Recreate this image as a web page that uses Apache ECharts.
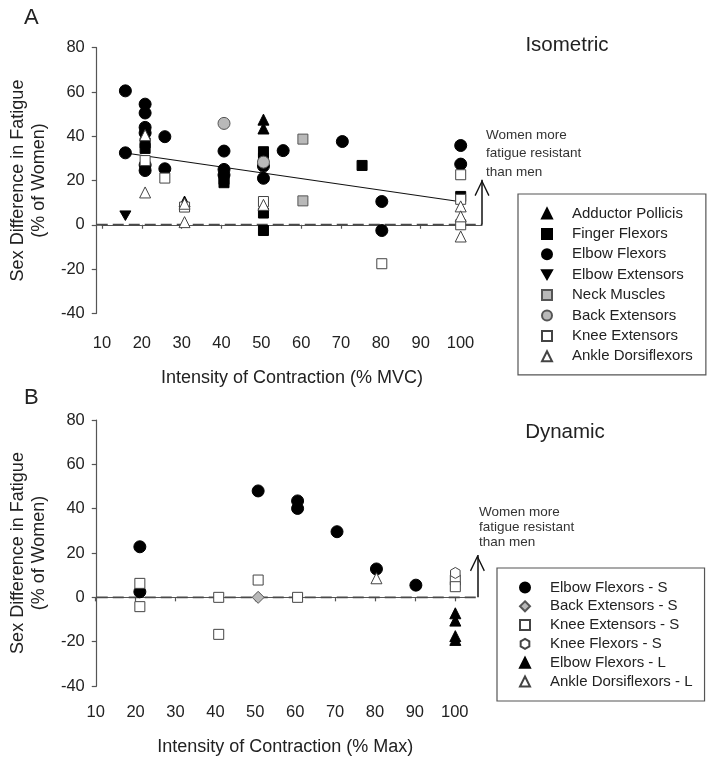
<!DOCTYPE html>
<html>
<head>
<meta charset="utf-8">
<script src="https://cdn.jsdelivr.net/npm/echarts@6/dist/echarts.min.js"></script>
<style>
html,body{margin:0;padding:0;background:#fff;}
#chart{width:714px;height:764px;}
</style>
</head>
<body>
<div id="chart"></div>
<script>
// ---------- Data ----------
const xTicks = [10, 20, 30, 40, 50, 60, 70, 80, 90, 100];

// Panel A: Isometric  [intensity %MVC, sex difference %]
const isoAdductorPollicis = [[30, 10.5], [50, 47.5], [50, 43.5]];
const isoFingerFlexors = [[20, 37], [20, 34.5], [40, 20.5], [40, 19], [50, 33], [50, 30], [50, 5.3], [50, -2.6], [75, 26.8], [100, 12.8]];
const isoElbowFlexors = [[15, 60.5], [15, 32.5], [20, 54.5], [20, 50.5], [20, 44], [20, 41.5], [20, 27], [20, 24.5], [25, 39.8], [25, 25.3], [40, 33.3], [40, 25], [40, 22.5], [50, 26.5], [50, 21], [55, 33.5], [70, 37.6], [80, 10.5], [80, -2.6], [100, 35.8], [100, 27.4]];
const isoElbowExtensors = [[15, 4.1]];
const isoNeckMuscles = [[60, 38.7], [60, 10.8]];
const isoBackExtensors = [[40, 45.8], [50, 28.3]];
const isoKneeExtensors = [[20, 29], [25, 21.1], [30, 8], [50, 10.5], [80, -17.6], [100, 22.6], [100, 11.5], [100, 0]];
const isoAnkleDorsiflexors = [[20, 40.5], [20, 14.6], [30, 9.5], [30, 1.2], [50, 9], [100, 8.3], [100, 3.8], [100, -5.3]];
const isoTrendX = [15, 100];
const isoTrendY = [32.4, 10.4];

// Panel B: Dynamic  [intensity %Max, sex difference %]
const dynElbowFlexorsS = [[20, 22.8], [20, 2.5], [50, 48], [60, 43.5], [60, 40.1], [70, 29.6], [80, 12.8], [90, 5.5]];
const dynBackExtensorsS = [[50, 0]];
const dynKneeExtensorsS = [[20, 6.3], [20, -4.2], [40, 0], [40, -16.7], [50, 7.8], [60, 0], [100, 7.8], [100, 4.8]];
const dynKneeFlexorsS = [[100, 11]];
const dynElbowFlexorsL = [[100, -7.2], [100, -10.5], [100, -17.5], [100, -19.2]];
const dynAnkleDorsiflexorsL = [[80, 8.6]];

// reference line extents (axis units)
const zeroLineA = [[7.74, 0], [105.4, 0]];
const zeroLineB = [[9.07, 0], [105.6, 0]];
const arrowTopA = 20.3;
const arrowTopB = 19.1;

// ---------- Styles ----------
const FONT = 'Liberation Sans, Arial, Helvetica, sans-serif';
const TXT = '#222';
const AX = '#555';
const HEX = 'path://M0,-10 L8.66,-5 L8.66,5 L0,10 L-8.66,5 L-8.66,-5 Z';
const DOWN_TRI = 'path://M-10,-8.66 L10,-8.66 L0,8.66 Z';
const CHEVRON = 'path://M0,0 L7.5,15.5 L6.3,16.2 L0,3 L-6.3,16.2 L-7.5,15.5 Z M0,-16.2 L0.01,-16.2 L0,-16.2 Z';

const filled = {color: '#000', borderColor: '#000', borderWidth: 1, opacity: 1};
const grayF = {color: '#b9b9b9', borderColor: '#555', borderWidth: 1, opacity: 1};
const openF = {color: '#fff', borderColor: '#444', borderWidth: 1, opacity: 1};

function sc(name, data, symbol, size, style, xi) {
  return {
    name: name, type: 'scatter', data: data, symbol: symbol, symbolSize: size,
    symbolKeepAspect: true,
    xAxisIndex: xi, yAxisIndex: xi, itemStyle: style, z: 3,
    emphasis: {disabled: true}
  };
}

function yAx(grid) {
  return {
    gridIndex: grid, type: 'value', min: -40, max: 80, interval: 20,
    name: 'Sex Difference in Fatigue\n(% of Women)', nameLocation: 'middle', nameRotate: 90, nameGap: 44,
    nameTextStyle: {fontFamily: FONT, fontSize: 18, lineHeight: 21, color: TXT},
    axisLine: {show: true, lineStyle: {color: AX, width: 1.2}},
    axisTick: {show: true, length: 5, lineStyle: {color: AX, width: 1.2}},
    axisLabel: {fontFamily: FONT, fontSize: 16.5, color: TXT, margin: 12},
    splitLine: {show: false}
  };
}
function xDisp(grid, max, off, name) {
  return {
    gridIndex: grid, type: 'value', min: 10, max: max, interval: 10, offset: off,
    name: name, nameLocation: 'middle', nameGap: 49,
    nameTextStyle: {fontFamily: FONT, fontSize: 18, color: TXT},
    axisLine: {show: true, lineStyle: {color: AX, width: 1.2}},
    axisTick: {show: true, length: 4, customValues: xTicks, lineStyle: {color: AX, width: 1.2}},
    axisLabel: {fontFamily: FONT, fontSize: 16.5, color: TXT, margin: 15, customValues: xTicks,
      formatter: function (v) { return xTicks.indexOf(v) >= 0 ? String(v) : ''; }},
    splitLine: {show: false}
  };
}
function xData(grid, min, max) {
  return {gridIndex: grid, type: 'value', min: min, max: max, show: false, splitLine: {show: false}};
}
function yHidden(grid) {
  return {gridIndex: grid, type: 'value', min: -40, max: 80, show: false, splitLine: {show: false}};
}

function zeroSeries(name, data, xi) {
  return {
    name: name, type: 'line', xAxisIndex: xi, yAxisIndex: xi, symbol: 'none', z: 2, clip: false,
    data: data, silent: true, emphasis: {disabled: true},
    lineStyle: {color: '#4a4a4a', width: 1.8, type: [11, 5]}
  };
}
function arrowLine(xEnd, top) {
  return {
    silent: true, symbol: ['none', CHEVRON], symbolSize: [15, 32.4], label: {show: false},
    emphasis: {disabled: true},
    lineStyle: {color: '#111', width: 1.5, type: 'solid', opacity: 1},
    data: [[{coord: [xEnd, 0]}, {coord: [xEnd, top]}]]
  };
}

const chart = echarts.init(document.getElementById('chart'), null, {renderer: 'canvas'});

const legendText = {fontFamily: FONT, fontSize: 15, lineHeight: 15, color: TXT, padding: [0, 0, 0, 15]};

chart.setOption({
  animation: false,
  backgroundColor: '#fff',
  textStyle: {fontFamily: FONT},
  grid: [
    {left: 93, top: 47.7, width: 389, height: 265.6},
    {left: 102, top: 47.7, width: 380, height: 265.6},
    {left: 92, top: 420, width: 385.4, height: 266},
    {left: 95.7, top: 420, width: 379, height: 266}
  ],
  xAxis: [
    xData(0, 7.74, 105.4),
    xDisp(1, 105.4, 6.7, 'Intensity of Contraction (% MVC)'),
    xData(2, 9.07, 105.6),
    xDisp(3, 105, 3.3, 'Intensity of Contraction (% Max)')
  ],
  yAxis: [yAx(0), yHidden(1), yAx(2), yHidden(3)],
  legend: [
    {
      data: ['Adductor Pollicis', 'Finger Flexors', 'Elbow Flexors', 'Elbow Extensors', 'Neck Muscles', 'Back Extensors', 'Knee Extensors', 'Ankle Dorsiflexors'],
      orient: 'vertical', left: 518, top: 194, padding: [12, 13, 11, 23],
      itemWidth: 10, itemHeight: 10, itemGap: 5.4,
      borderColor: '#555', borderWidth: 1.2, textStyle: legendText, selectedMode: false
    },
    {
      data: ['Elbow Flexors - S', 'Back Extensors - S', 'Knee Extensors - S', 'Knee Flexors - S', 'Elbow Flexors - L', 'Ankle Dorsiflexors - L'],
      orient: 'vertical', left: 497, top: 568, padding: [12, 12, 12, 22],
      itemWidth: 10, itemHeight: 10, itemGap: 3.8,
      borderColor: '#555', borderWidth: 1.2, textStyle: legendText, selectedMode: false
    }
  ],
  graphic: [
    {type: 'text', left: 24, top: 7, style: {text: 'A', font: '22px ' + FONT, fill: TXT}},
    {type: 'text', left: 24, top: 387, style: {text: 'B', font: '22px ' + FONT, fill: TXT}},
    {type: 'text', x: 567, y: 45, style: {text: 'Isometric', font: '20.5px ' + FONT, fill: TXT, align: 'center', verticalAlign: 'middle'}},
    {type: 'text', x: 565, y: 432, style: {text: 'Dynamic', font: '20.5px ' + FONT, fill: TXT, align: 'center', verticalAlign: 'middle'}},
    {type: 'text', x: 486, y: 126, style: {text: 'Women more\nfatigue resistant\nthan men', font: '13.5px ' + FONT, lineHeight: 18.5, fill: '#333', align: 'left', verticalAlign: 'top'}},
    {type: 'text', x: 479, y: 505, style: {text: 'Women more\nfatigue resistant\nthan men', font: '13.5px ' + FONT, lineHeight: 15, fill: '#333', align: 'left', verticalAlign: 'top'}}
  ],
  series: [
    zeroSeries('zeroA', zeroLineA, 0),
    {
      name: 'trendA', type: 'line', xAxisIndex: 0, yAxisIndex: 0, symbol: 'none', z: 2, clip: false,
      data: isoTrendX.map(function (x, i) { return [x, isoTrendY[i]]; }),
      lineStyle: {color: '#111', width: 1.1},
      silent: true, emphasis: {disabled: true},
      markLine: arrowLine(105.4, arrowTopA)
    },
    sc('Adductor Pollicis', isoAdductorPollicis, 'triangle', 11, filled, 0),
    sc('Finger Flexors', isoFingerFlexors, 'rect', 10, filled, 0),
    sc('Elbow Flexors', isoElbowFlexors, 'circle', 12, filled, 0),
    sc('Elbow Extensors', isoElbowExtensors, DOWN_TRI, 11, filled, 0),
    sc('Neck Muscles', isoNeckMuscles, 'rect', 10, grayF, 0),
    sc('Back Extensors', isoBackExtensors, 'circle', 12, grayF, 0),
    sc('Knee Extensors', isoKneeExtensors, 'rect', 10, openF, 0),
    sc('Ankle Dorsiflexors', isoAnkleDorsiflexors, 'triangle', 11, openF, 0),

    zeroSeries('zeroB', zeroLineB, 2),
    {
      name: 'arrowB', type: 'line', xAxisIndex: 2, yAxisIndex: 2, symbol: 'none', z: 2, clip: false,
      data: [], silent: true, emphasis: {disabled: true}, markLine: arrowLine(105.6, arrowTopB)
    },
    sc('Elbow Flexors - S', dynElbowFlexorsS, 'circle', 12, filled, 2),
    sc('Back Extensors - S', dynBackExtensorsS, 'diamond', 12, grayF, 2),
    sc('Knee Extensors - S', dynKneeExtensorsS, 'rect', 10, openF, 2),
    sc('Knee Flexors - S', dynKneeFlexorsS, HEX, 11, openF, 2),
    sc('Elbow Flexors - L', dynElbowFlexorsL, 'triangle', 11, filled, 2),
    sc('Ankle Dorsiflexors - L', dynAnkleDorsiflexorsL, 'triangle', 11, openF, 2)
  ]
});
</script>
</body>
</html>
